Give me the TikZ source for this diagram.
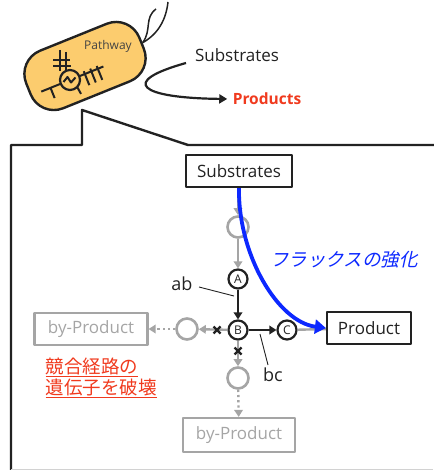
\documentclass[tikz,border=0pt]{standalone}
\usepackage{fontspec}
\setmainfont{Open Sans}
\newfontfamily\jpfont{Noto Sans CJK JP}
\newfontfamily\jpslant[FakeSlant=0.22]{Noto Sans CJK JP}
\usetikzlibrary{arrows.meta,positioning}
\definecolor{cellorange}{RGB}{252,204,110}
\definecolor{knockred}{RGB}{240,58,30}
\definecolor{fluxblue}{RGB}{12,40,255}
\definecolor{offgray}{RGB}{165,165,165}
\definecolor{ink}{RGB}{34,34,34}

\tikzset{
  box/.style={draw=ink, line width=2.2pt, minimum height=32pt, inner sep=0pt, text=ink, font=\fontsize{17}{19}\selectfont},
  offbox/.style={box, draw=offgray, text=offgray},
  metab/.style={circle, draw=ink, line width=2.2pt, fill=white, minimum size=19pt, inner sep=0pt, text=ink, font=\fontsize{12}{13}\selectfont},
  offmetab/.style={circle, draw=offgray, line width=2.6pt, fill=white, minimum size=21pt, inner sep=0pt},
  onarrow/.style={draw=ink, line width=2.2pt, -{Triangle[length=7pt,width=8.5pt]}},
  offarrow/.style={draw=offgray, line width=2.4pt, -{Triangle[length=7pt,width=8.5pt]}},
  offdots/.style={offarrow, dash pattern=on 2.2pt off 3pt},
  cutmark/.style={draw=ink, line width=2.4pt},
  leader/.style={draw=ink, line width=0.9pt},
}

\begin{document}
\begin{tikzpicture}[x=1pt, y=-1pt, line join=round]
\useasboundingbox (0,0) rectangle (433,470);

% speech-bubble frame around the pathway
\draw[ink, line width=2.4pt] (11,471) -- (11,145) -- (82,145) -- (82,110) -- (188,145) -- (434,145);
\draw[gray!35, line width=0.8pt] (11,469.5) -- (433,469.5);

% the cell
\node[draw=ink, line width=2.4pt, fill=cellorange, rounded corners=25pt,
      minimum width=122pt, minimum height=62pt, rotate=22] (cell) at (85,66) {};
\node[text=ink!85, font=\fontsize{12}{13}\selectfont] (pathw) at (108,46) {Pathway};
\draw[ink, line width=1.5pt] (cell.east) .. controls (152,30) and (144,18) .. (156,9);
\draw[ink, line width=1.5pt] (cell.east) .. controls (158,34) and (166,20) .. (168,2);

% gene circuit inside the cell
\begin{scope}[ink, line width=2pt]
  \node[circle, draw=ink, line width=2.2pt, minimum size=20pt, inner sep=0pt] (plasmid) at (70,80) {};
  \draw (63.5,82) -- (67.5,77) -- (71,82.5) -- (75.5,77.5);
  \begin{scope}[shift={(70,80)}, rotate=22]
    \draw (-31,0) -- (-10,0);
    \draw (10,0) -- (36,0);
    \draw (-21,0) -- (-21,11);
    \foreach \t in {16,23,30} \draw (\t,-3) -- (\t,12);
    \draw (4,9) -- (5,17);
  \end{scope}
  \draw (60,50) -- (60,71);
  \draw (66,52) -- (66,71);
  \draw (53,60) -- (70,60);
  \draw (53,66.5) -- (71,66.5);
\end{scope}

% substrates to products legend
\node[text=ink, font=\fontsize{17}{19}\selectfont] (subtxt) at (237,55) {Substrates};
\node[text=knockred, font=\fontsize{15.5}{17}\selectfont\bfseries] (prodtxt) at (267,99) {Products};
\coordinate (legstart) at (186,63);
\draw[ink, line width=2.2pt, -{Triangle[length=8pt,width=9pt]}, shorten >=2pt]
  (legstart) .. controls (118,82) and (140,98) .. (prodtxt.west);

% pathway nodes
\node[box, minimum width=106pt] (sub) at (239,171) {Substrates};
\node[box, minimum width=84pt] (prod) at (369,328) {Product};
\node[offbox, minimum width=113pt] (byL) at (91,329) {by-Product};
\node[offbox, minimum width=112pt, minimum height=34pt] (byB) at (239,435) {by-Product};

\node[offmetab] (g1) at (238,227) {};
\node[metab] (mA) at (238,279) {A};
\node[metab] (mB) at (238,330) {B};
\node[metab] (mC) at (287,330) {C};
\node[offmetab] (gL) at (187,329) {};
\node[offmetab] (gB) at (238,378) {};

% reactions
\draw[offarrow] (sub.south -| g1) -- (g1);
\draw[offarrow] (g1) -- (mA);
\draw[onarrow] (mA) -- (mB);
\draw[onarrow] (mB) -- (mC);
\draw[draw=offgray, line width=2.4pt] (mC) -- (prod);
\draw[offarrow] (mB) -- (gL);
\draw[offdots] (gL) -- (byL);
\draw[offarrow] (mB) -- (gB);
\draw[offdots] (gB) -- (byB);

% knocked-out branches
\draw[cutmark] (213.5,326.5) -- (220.5,333.5) (213.5,333.5) -- (220.5,326.5);
\draw[cutmark] (234.5,347.5) -- (241.5,354.5) (234.5,354.5) -- (241.5,347.5);

% enzyme labels
\node[text=ink, font=\fontsize{18}{20}\selectfont] (ab) at (182,284) {ab};
\draw[leader] (199,287) -- (234,296);
\node[text=ink, font=\fontsize{18}{20}\selectfont] (bc) at (273,375) {bc};
\draw[leader] (260,334) -- (268,365);

% enhanced flux
\draw[fluxblue, line width=3.8pt, -{Triangle[length=11pt,width=14pt]}]
  (sub.south) .. controls (238,255) and (278,322) .. (prod.west);
\node[text=fluxblue, font=\jpslant\fontsize{18.5}{20}\selectfont] (fluxlbl) at (344,260) {フラックスの強化};

\node[text=knockred, align=left, font=\jpfont\fontsize{18.5}{21}\selectfont] (knock) at (101,378)
  {\underline{競合経路の}\\\underline{遺伝子を破壊}};
\end{tikzpicture}
\end{document}
